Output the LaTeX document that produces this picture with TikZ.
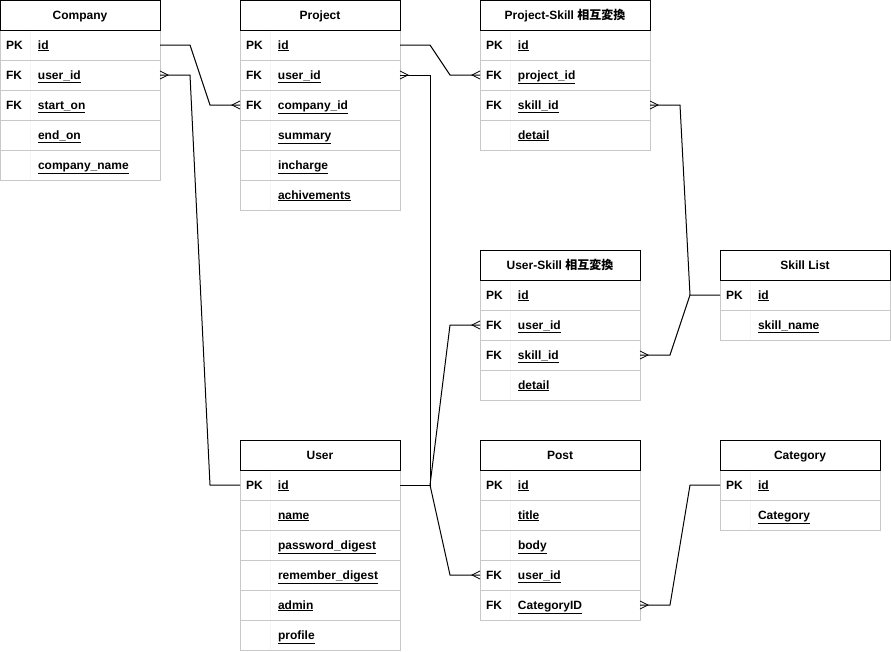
\documentclass[tikz,border=0pt]{standalone}
\usepackage{fontspec}
\setmainfont{Liberation Sans}
\newfontfamily\cjk{Noto Sans CJK JP}
\usepackage{tikz}
\usetikzlibrary{calc}
\definecolor{rowgray}{RGB}{200, 200, 200}
\definecolor{colgray}{RGB}{246, 246, 246}
\tikzset{
    hdr/.style  ={draw=black, line width=1pt, fill=white, anchor=north west,
                  minimum width=160pt, minimum height=30pt, inner sep=0pt, outer sep=0pt,
                  text height=10pt, text depth=2pt,
                  align=center, font=\fontsize{12pt}{14pt}\selectfont\bfseries},
    whdr/.style ={hdr, minimum width=170pt},
    fld/.style  ={draw=rowgray, line width=0.8pt, fill=white, anchor=north west,
                  minimum height=30pt, inner xsep=6pt, inner ysep=0pt, outer sep=0pt,
                  text width=148pt, text height=10pt, text depth=2pt, align=left,
                  font=\fontsize{12pt}{14pt}\selectfont\bfseries,
                  path picture={\draw[colgray, line width=0.8pt]
                      ([xshift=30pt]path picture bounding box.north west) --
                      ([xshift=30pt]path picture bounding box.south west);}},
    wfld/.style ={fld, text width=158pt},
    rel/.style  ={draw=black, line width=1pt},
    manyw/.pic  ={\draw[rel, line width=0.7pt] (0,-4) -- (-8,0) -- (0,4);},
    manye/.pic  ={\draw[rel, line width=0.7pt] (0,-4) -- (8,0) -- (0,4);}
}
\newcommand{\fkey}[2]{\makebox[32pt][l]{#1}\underline{#2}}

\begin{document}
\begin{tikzpicture}[x=1pt, y=-1pt]
  \useasboundingbox (0,0) rectangle (891,651);

  % Company
  \node[fld] (company-id)   at (0,30)  {\fkey{PK}{id}};
  \node[fld] (company-uid)  at (0,60)  {\fkey{FK}{user\_id}};
  \node[fld] (company-st)   at (0,90)  {\fkey{FK}{start\_on}};
  \node[fld] (company-end)  at (0,120) {\fkey{}{end\_on}};
  \node[fld] (company-name) at (0,150) {\fkey{}{company\_name}};
  \node[hdr] (company) at (0,0) {Company};

  % Project
  \node[fld] (project-id)   at (240,30)  {\fkey{PK}{id}};
  \node[fld] (project-uid)  at (240,60)  {\fkey{FK}{user\_id}};
  \node[fld] (project-cid)  at (240,90)  {\fkey{FK}{company\_id}};
  \node[fld] (project-sum)  at (240,120) {\fkey{}{summary}};
  \node[fld] (project-inc)  at (240,150) {\fkey{}{incharge}};
  \node[fld] (project-ach)  at (240,180) {\fkey{}{achivements}};
  \node[hdr] (project) at (240,0) {Project};

  % Project-Skill
  \node[wfld] (ps-id)  at (480,30)  {\fkey{PK}{id}};
  \node[wfld] (ps-pid) at (480,60)  {\fkey{FK}{project\_id}};
  \node[wfld] (ps-sid) at (480,90)  {\fkey{FK}{skill\_id}};
  \node[wfld] (ps-det) at (480,120) {\fkey{}{detail}};
  \node[whdr] (ps) at (480,0) {Project-Skill {\cjk\bfseries 相互変換}};

  % User-Skill
  \node[fld] (us-id)  at (480,280) {\fkey{PK}{id}};
  \node[fld] (us-uid) at (480,310) {\fkey{FK}{user\_id}};
  \node[fld] (us-sid) at (480,340) {\fkey{FK}{skill\_id}};
  \node[fld] (us-det) at (480,370) {\fkey{}{detail}};
  \node[hdr] (us) at (480,250) {User-Skill {\cjk\bfseries 相互変換}};

  % Skill List
  \node[wfld] (skill-id)   at (720,280) {\fkey{PK}{id}};
  \node[wfld] (skill-name) at (720,310) {\fkey{}{skill\_name}};
  \node[whdr] (skill) at (720,250) {Skill List};

  % User
  \node[fld] (user-id)   at (240,470) {\fkey{PK}{id}};
  \node[fld] (user-name) at (240,500) {\fkey{}{name}};
  \node[fld] (user-pwd)  at (240,530) {\fkey{}{password\_digest}};
  \node[fld] (user-rem)  at (240,560) {\fkey{}{remember\_digest}};
  \node[fld] (user-adm)  at (240,590) {\fkey{}{admin}};
  \node[fld] (user-prof) at (240,620) {\fkey{}{profile}};
  \node[hdr] (user) at (240,440) {User};

  % Post
  \node[fld] (post-id)    at (480,470) {\fkey{PK}{id}};
  \node[fld] (post-title) at (480,500) {\fkey{}{title}};
  \node[fld] (post-body)  at (480,530) {\fkey{}{body}};
  \node[fld] (post-uid)   at (480,560) {\fkey{FK}{user\_id}};
  \node[fld] (post-cid)   at (480,590) {\fkey{FK}{CategoryID}};
  \node[hdr] (post) at (480,440) {Post};

  % Category
  \node[fld] (cat-id)   at (720,470) {\fkey{PK}{id}};
  \node[fld] (cat-name) at (720,500) {\fkey{}{Category}};
  \node[hdr] (cat) at (720,440) {Category};

  % company -> project
  \draw[rel] (company-id.east) -- ++(30,0) -- ($(project-cid.west)+(-30,0)$) -- (project-cid.west);
  \pic at (project-cid.west) {manyw};

  % user -> company, project
  \draw[rel] (company-uid.east) -- ++(30,0) -- ($(user-id.west)+(-30,0)$) -- (user-id.west);
  \pic at (company-uid.east) {manye};
  \draw[rel] (project-uid.east) -- ++(30,0) -- ($(user-id.east)+(30,0)$) -- (user-id.east);
  \pic at (project-uid.east) {manye};

  % user -> user-skill, post
  \draw[rel] ($(user-id.east)+(30,0)$) -- ($(us-uid.west)+(-30,0)$) -- (us-uid.west);
  \pic at (us-uid.west) {manyw};
  \draw[rel] ($(user-id.east)+(30,0)$) -- ($(post-uid.west)+(-30,0)$) -- (post-uid.west);
  \pic at (post-uid.west) {manyw};

  % project -> project-skill
  \draw[rel] (project-id.east) -- ++(30,0) -- ($(ps-pid.west)+(-30,0)$) -- (ps-pid.west);
  \pic at (ps-pid.west) {manyw};

  % skill list
  \draw[rel] (ps-sid.east) -- ++(30,0) -- ($(skill-id.west)+(-30,0)$) -- (skill-id.west);
  \pic at (ps-sid.east) {manye};
  \draw[rel] (us-sid.east) -- ++(30,0) -- ($(skill-id.west)+(-30,0)$);
  \pic at (us-sid.east) {manye};

  % category
  \draw[rel] (post-cid.east) -- ++(30,0) -- ($(cat-id.west)+(-30,0)$) -- (cat-id.west);
  \pic at (post-cid.east) {manye};
\end{tikzpicture}
\end{document}
